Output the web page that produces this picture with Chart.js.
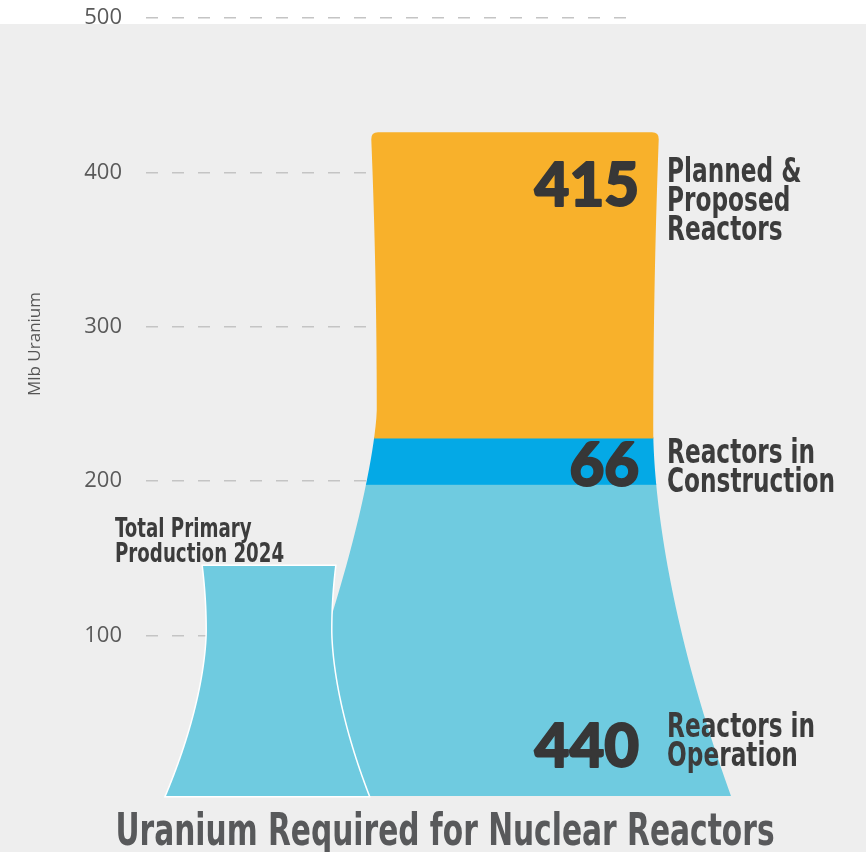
<!DOCTYPE html>
<html>
<head>
<meta charset="utf-8">
<script src="https://cdn.jsdelivr.net/npm/chart.js@4.4.1/dist/chart.umd.min.js"></script>
<style>
  html, body { margin: 0; padding: 0; background: #fff; }
  #wrap { width: 866px; height: 852px; }
</style>
</head>
<body>
<div id="wrap"><canvas id="grafico" width="866" height="852"></canvas></div>
<script>
// dados (Mlb Uranium)
const categorias = ['Total Primary Production 2024', 'Uranium Required for Nuclear Reactors'];
const producao2024 = [145, null];
const emOperacao = [null, 198];
const emConstrucao = [null, 30];
const planejados = [null, 198];
const reatores = [440, 66, 415]; // operação, construção, planejados
const nomesSegmentos = [
  ['Reactors in', 'Operation'],
  ['Reactors in', 'Construction'],
  ['Planned &', 'Proposed', 'Reactors']
];
const rotuloProducao = ['Total Primary', 'Production 2024'];
const ticksY = [100, 200, 300, 400, 500];

const NARROW = '"DejaVu Sans Condensed", "Liberation Sans Narrow", sans-serif';

// formato de torre de resfriamento, por categoria (lado esquerdo / direito)
const formas = [
  {
    radius: 0, outline: '#ffffff',
    left:  { waist: 0.28, waistW: 0.94, baseW: 1.56, pow: 1.7 },
    right: { waist: 0.28, waistW: 0.94, baseW: 1.51, pow: 1.7 }
  },
  {
    radius: 7, outline: null,
    left:  { waist: 0.42, waistW: 0.96, baseW: 1.72, pow: 1.4 },
    right: { waist: 0.45, waistW: 0.96, baseW: 1.5, pow: 1.7 }
  }
];

function larguraTorre(s, f) {
  if (s < f.waist) {
    const t = (f.waist - s) / f.waist;
    return f.waistW + (1 - f.waistW) * t * t;
  }
  const t = (s - f.waist) / (1 - f.waist);
  return f.waistW + (f.baseW - f.waistW) * Math.pow(t, f.pow);
}

function caminhoTorre(ctx, cx, top, bottom, half, f) {
  const h = bottom - top;
  const r = f.radius;
  const n = 80;
  const s0 = r / h;
  ctx.beginPath();
  ctx.moveTo(cx - half + r, top);
  ctx.lineTo(cx + half - r, top);
  ctx.quadraticCurveTo(cx + half, top, cx + half * larguraTorre(s0, f.right), top + r);
  for (let k = 0; k <= n; k++) {
    const s = s0 + (1 - s0) * k / n;
    ctx.lineTo(cx + half * larguraTorre(s, f.right), top + s * h);
  }
  for (let k = n; k >= 0; k--) {
    const s = s0 + (1 - s0) * k / n;
    ctx.lineTo(cx - half * larguraTorre(s, f.left), top + s * h);
  }
  ctx.quadraticCurveTo(cx - half, top, cx - half + r, top);
  ctx.closePath();
}

// texto condensado na horizontal
function textoEstreito(ctx, txt, x, y, escala, align) {
  ctx.save();
  ctx.translate(x, y);
  ctx.scale(escala, 1);
  ctx.textAlign = align;
  ctx.fillText(txt, 0, 0);
  ctx.restore();
}

const torres = {
  id: 'torres',
  beforeDraw(chart) {
    const { ctx, width, height } = chart;
    ctx.save();
    ctx.fillStyle = '#ffffff';
    ctx.fillRect(0, 0, width, height);
    ctx.fillStyle = '#eeeeee';
    ctx.fillRect(0, 24, width, height - 24);
    ctx.restore();
  },
  beforeDatasetsDraw(chart) {
    const ctx = chart.ctx;
    [1, 0].forEach(i => {
      const segs = [];
      chart.data.datasets.forEach((ds, d) => {
        if (ds.data[i] == null) return;
        segs.push({ el: chart.getDatasetMeta(d).data[i], cor: ds.backgroundColor });
      });
      if (!segs.length) return;
      const cx = segs[0].el.x;
      const half = segs[0].el.width / 2;
      const topo = Math.min(...segs.map(s => s.el.y));
      const base0 = Math.max(...segs.map(s => s.el.base));
      const base = base0 + 6;
      const f = formas[i];
      ctx.save();
      caminhoTorre(ctx, cx, topo, base, half, f);
      if (f.outline) {
        ctx.strokeStyle = f.outline;
        ctx.lineWidth = 3;
        ctx.stroke();
      }
      ctx.clip();
      segs.forEach(s => {
        const y0 = s.el.y;
        const y1 = s.el.base === base0 ? base : s.el.base;
        ctx.fillStyle = s.cor;
        ctx.fillRect(cx - half * 2, y0 - 0.5, half * 4, y1 - y0 + 1);
      });
      ctx.restore();
    });
    return false;
  },
  afterDraw(chart) {
    const ctx = chart.ctx;
    ctx.save();
    ctx.textBaseline = 'alphabetic';

    // rótulos da torre grande
    const metas = [1, 2, 3].map(d => chart.getDatasetMeta(d).data[1]);
    const topoTorre = metas[2].y;
    const baseTorre = metas[0].base;
    const meio = (metas[1].y + metas[1].base) / 2;
    const pos = [
      { num: baseTorre - 45, nome: baseTorre - 51 },
      { num: meio + 3, nome: meio + 4 },
      { num: topoTorre + 52, nome: topoTorre + 67 }
    ];
    const xDir = metas[0].x + metas[0].width / 2;
    metas.forEach((el, k) => {
      ctx.fillStyle = '#373737';
      ctx.strokeStyle = '#373737';
      ctx.lineWidth = 2;
      ctx.lineJoin = 'round';
      ctx.font = '900 60px Lato';
      ctx.textAlign = 'right';
      ctx.fillText(String(reatores[k]), xDir - 20, pos[k].num + 21.5);
      ctx.strokeText(String(reatores[k]), xDir - 20, pos[k].num + 21.5);
      ctx.font = 'bold 34px ' + NARROW;
      ctx.fillStyle = '#3c3c3c';
      const linhas = nomesSegmentos[k];
      const y0 = pos[k].nome - (linhas.length - 1) * 29 / 2 + 12;
      linhas.forEach((t, j) => textoEstreito(ctx, t, xDir + 8, y0 + j * 29, 0.76, 'left'));
    });

    // rótulo da torre pequena
    const p = chart.getDatasetMeta(0).data[0];
    ctx.font = 'bold 27px ' + NARROW;
    ctx.fillStyle = '#3c3c3c';
    rotuloProducao.forEach((t, j) => textoEstreito(ctx, t, p.x - 154, p.y - 29 + j * 25, 0.75, 'left'));

    // título do eixo y
    ctx.save();
    ctx.translate(35, 344);
    ctx.rotate(-Math.PI / 2);
    ctx.textAlign = 'center';
    ctx.textBaseline = 'middle';
    ctx.font = '17px "Open Sans"';
    ctx.fillStyle = '#555';
    ctx.fillText('Mlb Uranium', 0, 0);
    ctx.restore();

    // título
    ctx.font = 'bold 44px ' + NARROW;
    ctx.fillStyle = '#58595b';
    textoEstreito(ctx, categorias[1], 445, 845, 0.75, 'center');
    ctx.restore();
  }
};

function inicializarGrafico() {
  const ctx = document.getElementById('grafico');
  new Chart(ctx, {
    type: 'bar',
    data: {
      labels: categorias,
      datasets: [
        { label: 'Total Primary Production 2024', data: producao2024, backgroundColor: '#6fcbe0', barThickness: 132 },
        { label: 'Reactors in Operation', data: emOperacao, backgroundColor: '#6fcbe0', barThickness: 288 },
        { label: 'Reactors in Construction', data: emConstrucao, backgroundColor: '#04a9e6', barThickness: 288 },
        { label: 'Planned & Proposed Reactors', data: planejados, backgroundColor: '#f8b12b', barThickness: 288 }
      ]
    },
    options: {
      responsive: false,
      animation: false,
      layout: { padding: { top: 18, right: 228, bottom: 62, left: 0 } },
      plugins: {
        legend: { display: false },
        tooltip: { enabled: false },
        title: { display: false }
      },
      scales: {
        x: { stacked: true, display: false },
        y: {
          stacked: true,
          min: 0,
          max: 500,
          afterBuildTicks: axis => { axis.ticks = ticksY.map(v => ({ value: v })); },
          afterFit: axis => {
            axis.width = 146;
            axis.paddingTop = 10;
            axis.paddingBottom = 10;
          },
          ticks: { padding: 24, color: '#5a5a5a', font: { family: 'Open Sans', size: 22 } },
          grid: { color: '#c4c4c4', lineWidth: 1.5, drawTicks: false },
          border: { display: false, dash: [12, 14] }
        }
      }
    },
    plugins: [torres]
  });
}

inicializarGrafico();
</script>
</body>
</html>
